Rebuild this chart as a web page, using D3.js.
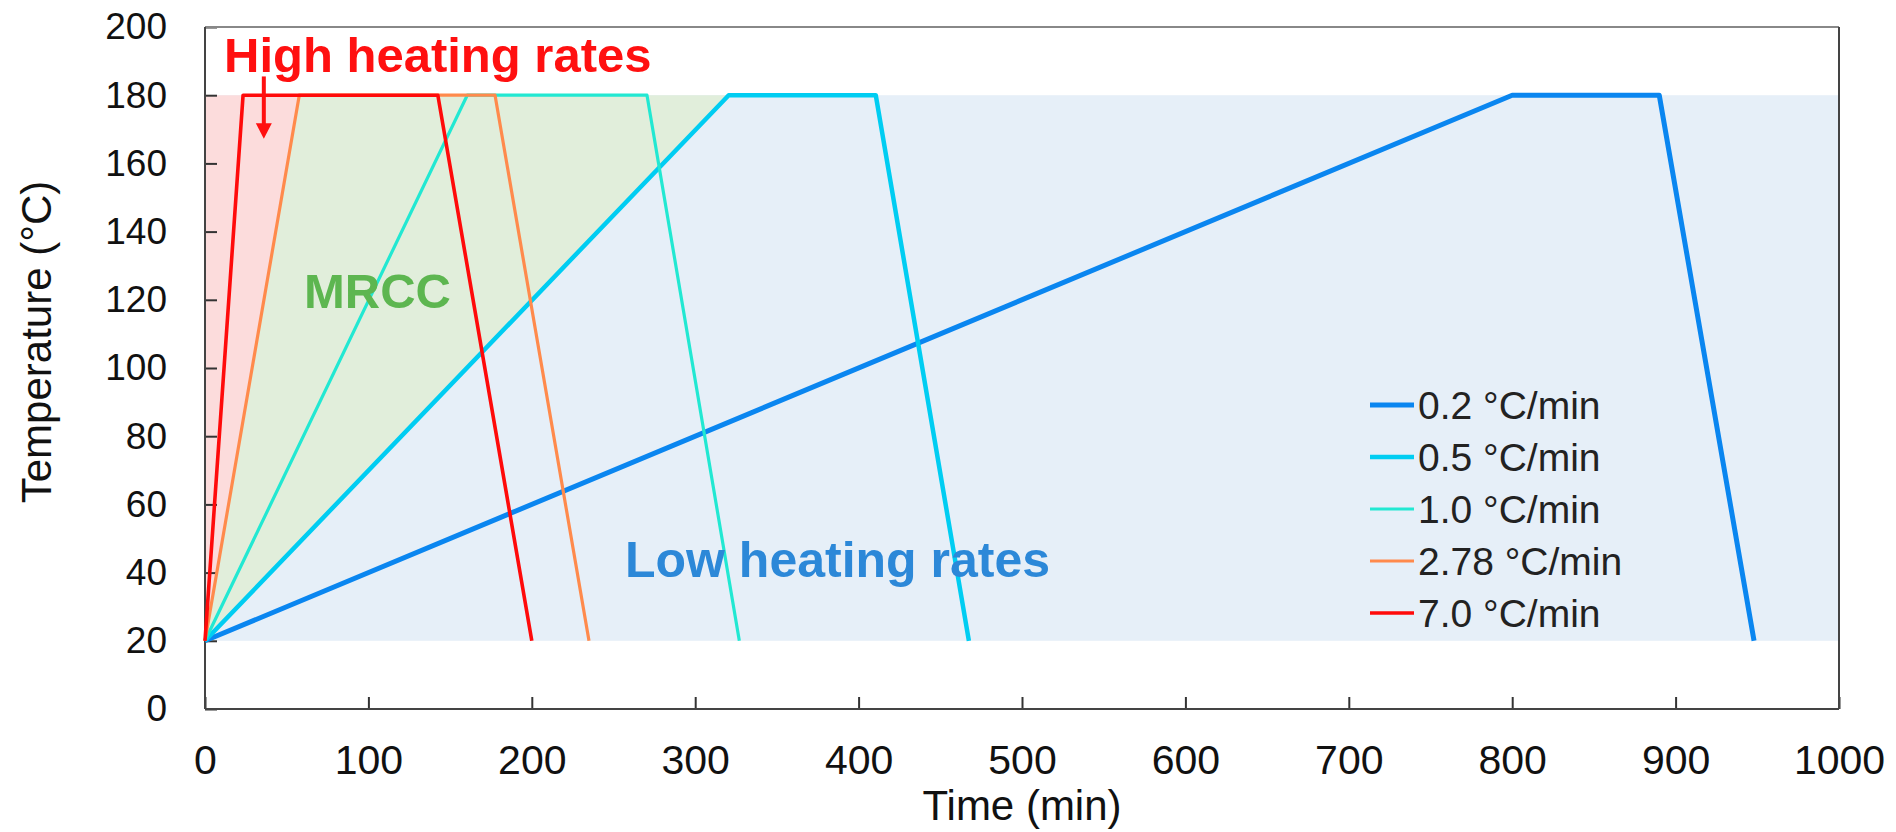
<!DOCTYPE html>
<html>
<head>
<meta charset="utf-8">
<script src="https://cdn.jsdelivr.net/npm/d3@7"></script>
<style>
  html, body { margin: 0; padding: 0; background: #fff; }
  svg { display: block; font-family: "Liberation Sans", Arial, sans-serif; }
</style>
</head>
<body>
<svg id="chart" width="1896" height="832"></svg>
<script>
// ---- data ----
const seriesNames = ["0.2 °C/min", "0.5 °C/min", "1.0 °C/min", "2.78 °C/min", "7.0 °C/min"];
const seriesColors = ["#0a86f0", "#00cdf2", "#22e8d2", "#ff8a4c", "#ff0a0a"];
const seriesWidths = [5, 4.5, 3.2, 3.2, 3.6];
const startTime = [0, 0, 0, 0, 0];
const rampEnd = [800, 320.5, 160.5, 57.7, 23.3];
const holdEnd = [890, 410.5, 270.5, 177.5, 142.5];
const coolEnd = [948, 467.5, 327, 235, 200];
const lowTemp = 20;
const holdTemp = 180;
const xTicks = [0, 100, 200, 300, 400, 500, 600, 700, 800, 900, 1000];
const yTicks = [0, 20, 40, 60, 80, 100, 120, 140, 160, 180, 200];

// ---- layout ----
const svg = d3.select("#chart");
const x = d3.scaleLinear().domain([0, 1000]).range([205, 1839]);
const y = d3.scaleLinear().domain([0, 200]).range([709, 27]);

// shaded regions
const g = svg.append("g");
g.append("rect")
  .attr("x", x(0)).attr("y", y(holdTemp))
  .attr("width", x(1000) - x(0)).attr("height", y(lowTemp) - y(holdTemp))
  .attr("fill", "#e6eff8");
// MRCC region between 2.78 and 0.5 ramps
g.append("path")
  .attr("d", d3.line()([[x(startTime[3]), y(lowTemp)], [x(rampEnd[3]), y(holdTemp)], [x(rampEnd[1]), y(holdTemp)], [x(startTime[1]), y(lowTemp)]]))
  .attr("fill", "#e1eedb");
// high heating region left of 2.78 ramp
g.append("path")
  .attr("d", d3.line()([[x(0), y(lowTemp)], [x(0), y(holdTemp)], [x(rampEnd[3]), y(holdTemp)], [x(startTime[3]), y(lowTemp)]]))
  .attr("fill", "#fcdcdc");

// axes
const yAxis = d3.axisLeft(y).tickValues(yTicks).tickFormat(d3.format("d")).tickSizeInner(-12).tickSizeOuter(0).tickPadding(38);
const xAxis = d3.axisBottom(x).tickValues(xTicks).tickFormat(d3.format("d")).tickSizeInner(-12).tickSizeOuter(0).tickPadding(36);
const ya = svg.append("g").attr("transform", `translate(${x(0)},0)`).call(yAxis);
const xa = svg.append("g").attr("transform", `translate(0,${y(0)})`).call(xAxis);
ya.select(".domain").remove();
xa.select(".domain").remove();
ya.selectAll(".tick line").attr("stroke", "#333").attr("stroke-width", 2);
xa.selectAll(".tick line").attr("stroke", "#333").attr("stroke-width", 2);
ya.selectAll(".tick text").attr("font-size", 37).attr("fill", "#111").attr("font-family", "Liberation Sans, Arial, sans-serif");
xa.selectAll(".tick text").attr("font-size", 41).attr("fill", "#111").attr("font-family", "Liberation Sans, Arial, sans-serif");

// frame
svg.append("line").attr("x1", x(0)).attr("x2", x(1000)).attr("y1", y(200)).attr("y2", y(200)).attr("stroke", "#888").attr("stroke-width", 2);
svg.append("line").attr("x1", x(1000)).attr("x2", x(1000)).attr("y1", y(200)).attr("y2", y(0)).attr("stroke", "#444").attr("stroke-width", 2);
svg.append("line").attr("x1", x(0)).attr("x2", x(0)).attr("y1", y(200)).attr("y2", y(0)).attr("stroke", "#444").attr("stroke-width", 2);
svg.append("line").attr("x1", x(0)).attr("x2", x(1000)).attr("y1", y(0)).attr("y2", y(0)).attr("stroke", "#444").attr("stroke-width", 2);

// axis titles
svg.append("text").attr("x", (x(0) + x(1000)) / 2).attr("y", 820)
  .attr("text-anchor", "middle").attr("font-size", 42).attr("fill", "#111").text("Time (min)");
svg.append("text").attr("transform", `translate(51,342) rotate(-90)`)
  .attr("text-anchor", "middle").attr("font-size", 42).attr("fill", "#111").text("Temperature (°C)");

// profile lines
const line = d3.line().x(d => x(d[0])).y(d => y(d[1]));
seriesNames.forEach((name, i) => {
  const pts = [[startTime[i], lowTemp], [rampEnd[i], holdTemp], [holdEnd[i], holdTemp], [coolEnd[i], lowTemp]];
  svg.append("path").attr("d", line(pts)).attr("fill", "none")
    .attr("stroke", seriesColors[i]).attr("stroke-width", seriesWidths[i])
    .attr("stroke-linejoin", "round");
});

// annotations
svg.append("text").attr("x", 224).attr("y", 72).attr("font-size", 49).attr("font-weight", "bold")
  .attr("fill", "#ff1010").text("High heating rates");
svg.append("line").attr("x1", x(36)).attr("x2", x(36)).attr("y1", y(185.5)).attr("y2", y(171))
  .attr("stroke", "#ff1010").attr("stroke-width", 4);
svg.append("path")
  .attr("d", d3.line()([[x(36) - 8, y(171.8)], [x(36) + 8, y(171.8)], [x(36), y(167.2)]]))
  .attr("fill", "#ff1010");
svg.append("text").attr("x", 304).attr("y", 308).attr("font-size", 49).attr("font-weight", "bold")
  .attr("fill", "#5db650").text("MRCC");
svg.append("text").attr("x", 625).attr("y", 577).attr("font-size", 50).attr("font-weight", "bold")
  .attr("fill", "#2c88d8").text("Low heating rates");

// legend
const legRowY = [419, 471, 523, 575, 627];
seriesNames.forEach((name, i) => {
  svg.append("line").attr("x1", 1370).attr("x2", 1414).attr("y1", legRowY[i] - 14).attr("y2", legRowY[i] - 14)
    .attr("stroke", seriesColors[i]).attr("stroke-width", seriesWidths[i]);
  svg.append("text").attr("x", 1418).attr("y", legRowY[i]).attr("font-size", 39).attr("fill", "#222").text(name);
});
</script>
</body>
</html>
